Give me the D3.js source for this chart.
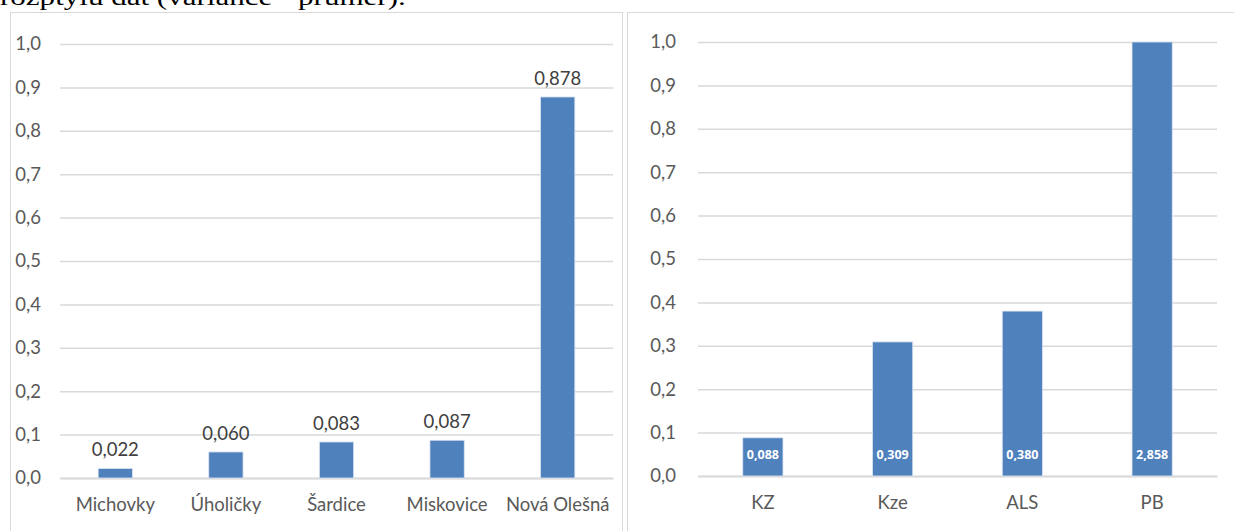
<!DOCTYPE html>
<html><head><meta charset="utf-8">
<script src="https://cdn.jsdelivr.net/npm/d3@7"></script>
<style>body{margin:0;background:#fff}svg{display:block}</style>
</head><body>
<svg id="c" width="1234" height="531"></svg>
<script>
const leftCategories = ["Michovky","Úholičky","Šardice","Miskovice","Nová Olešná"];
const leftValues = [0.022,0.060,0.083,0.087,0.878];
const leftLabels = ["0,022","0,060","0,083","0,087","0,878"];
const rightCategories = ["KZ","Kze","ALS","PB"];
const rightValues = [0.088,0.309,0.380,2.858];
const rightLabels = ["0,088","0,309","0,380","2,858"];
const yTicks = [0,0.1,0.2,0.3,0.4,0.5,0.6,0.7,0.8,0.9,1.0];
const headerText = "rozptylu dat (variance - průměr).";

const svg = d3.select("#c");
const fmt = v => d3.format(".1f")(v).replace(".", ",");
const barColor = "#4f81bd";
const gridColor = "#d9d9d9";
const textColor = "#595959";
const font = "Lato, 'Open Sans', sans-serif";
const fs = 18.5;

const header = svg.append("text").attr("x", 0).attr("y", 0).attr("font-family", "'Liberation Serif', serif")
  .attr("font-size", 24).attr("fill", "#000").text(headerText);
const hw = header.node().getComputedTextLength();
header.attr("transform", `translate(0,5) scale(${406 / hw},1)`);

// panel borders
svg.append("rect").attr("x", 10.5).attr("y", 12.5).attr("width", 612).attr("height", 540)
  .attr("fill", "none").attr("stroke", gridColor);
svg.append("rect").attr("x", 627.5).attr("y", 12.5).attr("width", 640).attr("height", 540)
  .attr("fill", "none").attr("stroke", gridColor);

function drawChart(cfg) {
  const g = svg.append("g");
  const x = d3.scaleBand().domain(cfg.cats).range([cfg.x0, cfg.x1]).paddingInner(0.69).paddingOuter(0.345);
  const y = d3.scaleLinear().domain([0, 1]).range([cfg.y0, cfg.y1]);
  const yAxis = d3.axisLeft(y).tickValues(yTicks).tickFormat(fmt).tickSize(-(cfg.x1 - cfg.x0)).tickPadding(cfg.tickPad);
  const ga = g.append("g").attr("transform", `translate(${cfg.x0},0)`).call(yAxis);
  ga.select(".domain").remove();
  ga.selectAll(".tick line").attr("stroke", gridColor).attr("stroke-width", 1.5);
  ga.selectAll(".tick text").attr("font-family", font).attr("font-size", fs).attr("fill", textColor);

  const xAxis = d3.axisBottom(x).tickSize(0).tickPadding(20);
  const gx = g.append("g").attr("transform", `translate(0,${cfg.y0})`).call(xAxis);
  gx.select(".domain").attr("stroke", gridColor).attr("stroke-width", 2);
  gx.selectAll(".tick text").attr("font-family", font).attr("font-size", fs).attr("fill", textColor);

  g.selectAll("rect.bar").data(cfg.vals).join("rect").attr("class", "bar")
    .attr("x", (d, i) => x(cfg.cats[i]))
    .attr("width", x.bandwidth())
    .attr("y", d => y(Math.min(d, 1)))
    .attr("height", d => y(0) - y(Math.min(d, 1)))
    .attr("fill", barColor).attr("stroke", "#dbe4f0").attr("stroke-width", 0.8);

  if (cfg.inside) {
    g.selectAll("text.val").data(cfg.vals).join("text").attr("class", "val")
      .attr("x", (d, i) => x(cfg.cats[i]) + x.bandwidth() / 2)
      .attr("y", y(0) - 17)
      .attr("text-anchor", "middle").attr("font-family", "'Open Sans', sans-serif")
      .attr("font-weight", "bold").attr("font-size", 12.5).attr("fill", "#fff")
      .text((d, i) => cfg.labels[i]);
  } else {
    g.selectAll("text.val").data(cfg.vals).join("text").attr("class", "val")
      .attr("x", (d, i) => x(cfg.cats[i]) + x.bandwidth() / 2)
      .attr("y", d => y(d) - 12)
      .attr("text-anchor", "middle").attr("font-family", font)
      .attr("font-size", fs).attr("fill", "#404040")
      .text((d, i) => cfg.labels[i]);
  }
}

drawChart({cats: leftCategories, vals: leftValues, labels: leftLabels, x0: 60, x1: 613, y0: 478, y1: 44, tickPad: 19, inside: false});
drawChart({cats: rightCategories, vals: rightValues, labels: rightLabels, x0: 698, x1: 1217, y0: 476, y1: 42, tickPad: 22, inside: true});
</script>
</body></html>
